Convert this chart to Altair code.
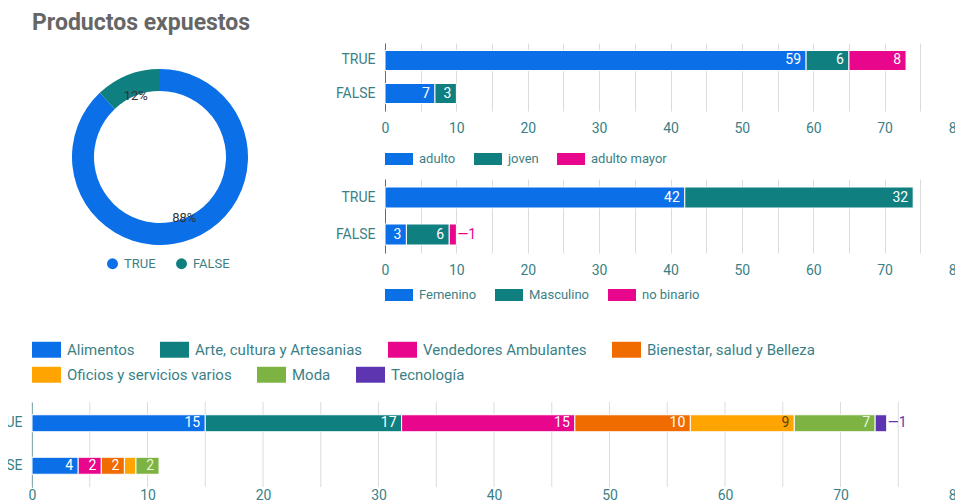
import altair as alt
import pandas as pd

TITLE = "Productos expuestos"
GROUPS = ["TRUE", "FALSE"]

# Donut: share of exposed products
donut_labels = ["TRUE", "FALSE"]
donut_values = [88, 12]
donut_text = ["88%", "12%"]

# Chart 1: age group
age_cats = ["adulto", "joven", "adulto mayor"]
age_true = [59, 6, 8]
age_false = [7, 3, 0]

# Chart 2: gender
gen_cats = ["Femenino", "Masculino", "no binario"]
gen_true = [42, 32, 0]
gen_false = [3, 6, 1]

# Chart 3: product category
cat_cats = ["Alimentos", "Arte, cultura y Artesanias", "Vendedores Ambulantes",
            "Bienestar, salud y Belleza", "Oficios y servicios varios", "Moda", "Tecnología"]
cat_true = [15, 17, 15, 10, 9, 7, 1]
cat_false = [4, 0, 2, 2, 1, 2, 0]

# x-axis ticks (grid every 5, labels every 10)
grid_values = [0, 5, 10, 15, 20, 25, 30, 35, 40, 45, 50, 55, 60, 65, 70, 75, 80]

PALETTE = ["#0b6fe8", "#0f7f80", "#e7068c", "#f06c00", "#ffa400", "#7cb342", "#5e35b1"]
TEXT_COLORS = ["#ffffff", "#ffffff", "#ffffff", "#ffffff", "#5a4300", "#e9f4df", "#ffffff"]
AXIS = "#3b7f86"
GRID = "#dcdcdc"
FONT = "Roboto"
W = 924


def stacked_rows(cats, true_vals, false_vals):
    rows = []
    for g, vals in zip(GROUPS, [true_vals, false_vals]):
        start = 0
        last = max(i for i, v in enumerate(vals) if v > 0)
        for i, (c, v) in enumerate(zip(cats, vals)):
            if v <= 0:
                continue
            end = start + v
            if v >= 2:
                mode, txt = "in", str(v)
            elif i == last:
                mode, txt = "out", "\u2014" + str(v)
            else:
                mode, txt = "none", ""
            rows.append(dict(grupo=g, cat=c, orden=i, valor=v, ini=start, fin=end,
                             modo=mode, txt=txt, tcol=TEXT_COLORS[i], scol=PALETTE[i]))
            start = end
    return pd.DataFrame(rows)


def rect_legend(x, y, width, ratio, font_size, col_pad):
    return alt.Legend(
        orient="none", legendX=x, legendY=y, direction="horizontal", title=None,
        symbolType=f"M-1,-{ratio}H1V{ratio}H-1Z", symbolSize=width * width,
        symbolStrokeWidth=0, symbolOpacity=1, labelFont=FONT, labelFontSize=font_size,
        labelColor=AXIS, labelOffset=6, labelLimit=400, columnPadding=col_pad, padding=0,
    )


def bar_layers(df, cats, x_off, y_range, p_in, p_out, size, legend, label_pad, own_grid):
    colors = PALETTE[:len(cats)]
    yscale = alt.Scale(paddingInner=p_in, paddingOuter=p_out, range=y_range)
    y = alt.Y("grupo:N", sort=GROUPS, title=None, scale=yscale,
              axis=alt.Axis(domain=True, domainColor=AXIS, domainWidth=1, ticks=False, tickSize=0,
                            labelColor=AXIS, labelFont=FONT, labelFontSize=14, labelPadding=10,
                            grid=False, offset=-x_off))
    xscale = alt.Scale(domain=[0, 80], nice=False, zero=True, range=[x_off, W])
    x = alt.X("ini:Q", scale=xscale, title=None,
              axis=alt.Axis(values=grid_values,
                            labelExpr="datum.value % 10 === 0 ? datum.label : ''",
                            ticks=False, tickSize=0, domain=False, grid=not own_grid,
                            gridColor=GRID, labelColor=AXIS, labelFont=FONT, labelFontSize=14,
                            labelPadding=label_pad, labelFlush=False))
    layers = []
    if own_grid:
        layers.append(
            alt.Chart(pd.DataFrame({"g": grid_values})).mark_rule(color=GRID, strokeWidth=1).encode(
                x=alt.X("g:Q", title=None),
                y=alt.value(y_range[0]), y2=alt.value(y_range[1])))
    bars = alt.Chart(df).mark_bar(size=size, stroke="white", strokeWidth=1).encode(
        y=y, x=x, x2="fin:Q",
        color=alt.Color("cat:N", scale=alt.Scale(domain=cats, range=colors), legend=legend),
        order=alt.Order("orden:Q"))
    inside = alt.Chart(df).transform_filter("datum.modo == 'in'").mark_text(
        align="right", baseline="middle", dx=-5, font=FONT, fontSize=14).encode(
        y=alt.Y("grupo:N", sort=GROUPS, title=None),
        x=alt.X("fin:Q", title=None),
        text="txt:N",
        color=alt.Color("tcol:N", scale=None))
    outside = alt.Chart(df).transform_filter("datum.modo == 'out'").mark_text(
        align="left", baseline="middle", dx=1, font=FONT, fontSize=14).encode(
        y=alt.Y("grupo:N", sort=GROUPS, title=None),
        x=alt.X("fin:Q", title=None),
        text="txt:N",
        color=alt.Color("scol:N", scale=None))
    return layers + [bars, inside, outside]


def legend_only(cats, colors, legend):
    # draws nothing (empty data); only produces a legend row from the colour scale
    return alt.Chart(pd.DataFrame({"cat": cats})).transform_filter("false").mark_square().encode(
        x=alt.value(0), y=alt.value(0),
        color=alt.Color("cat:N", scale=alt.Scale(domain=cats, range=colors), legend=legend))


age_df = stacked_rows(age_cats, age_true, age_false)
gen_df = stacked_rows(gen_cats, gen_true, gen_false)
cat_df = stacked_rows(cat_cats, cat_true, cat_false)

# Donut (drawn inside the first panel, centred to the left of its bars)
donut_df = pd.DataFrame({"estado": donut_labels, "pct": donut_values,
                         "etiqueta": donut_text, "orden": [0, 1]})
dbase = alt.Chart(donut_df).encode(
    theta=alt.Theta("pct:Q", stack=True),
    order=alt.Order("orden:Q"),
    x=alt.value(128), y=alt.value(114))
arc = dbase.mark_arc(outerRadius=88, innerRadius=66).encode(
    color=alt.Color("estado:N", scale=alt.Scale(domain=donut_labels, range=PALETTE[:2]),
                    legend=alt.Legend(orient="none", legendX=74, legendY=214, direction="horizontal",
                                      title=None, symbolType="circle", symbolSize=120,
                                      symbolStrokeWidth=0, symbolOpacity=1, labelFont=FONT,
                                      labelFontSize=13, labelColor=AXIS, labelOffset=5,
                                      columnPadding=19, padding=0)))
dtext = dbase.mark_text(radius=66, font=FONT, fontSize=13, color="#333333").encode(text="etiqueta:N")

bar1 = alt.layer(
    *bar_layers(age_df, age_cats, 353, [0, 68], 0.4, 0.23, 20,
                rect_legend(353, 102, 28, 0.43, 13, 18), 10, False),
    arc, dtext
).resolve_scale(color="independent").properties(width=W, height=68)

bar2 = alt.layer(
    *bar_layers(gen_df, gen_cats, 353, [0, 74], 0.4, 0.2, 21,
                rect_legend(353, 102, 28, 0.43, 13, 18), 10, False)
).properties(width=W, height=74)

bar3 = alt.layer(
    *bar_layers(cat_df, cat_cats, 0, [81, 166], 0.4, 0.2, 17, None, 1, True),
    legend_only(cat_cats[:4], PALETTE[:4], rect_legend(0, 14, 29, 0.55, 15, 25)),
    legend_only(cat_cats[4:], PALETTE[4:], rect_legend(0, 39, 29, 0.55, 15, 25)),
).resolve_scale(color="independent").properties(width=W, height=166)

chart = alt.vconcat(bar1, bar2, bar3, spacing=68, bounds="flush").resolve_scale(
    color="independent"
).properties(
    title=alt.TitleParams(TITLE, anchor="start", font=FONT, fontSize=23, fontWeight="bold",
                          color="#666666", offset=8, frame="group"),
    padding={"left": -26, "top": 4, "right": -9, "bottom": 2},
).configure_view(stroke=None)

chart.save("out.html", embed_options={"renderer": "svg", "actions": False})
